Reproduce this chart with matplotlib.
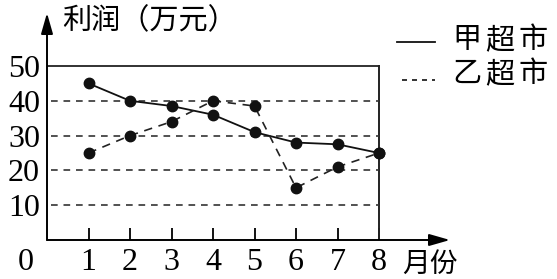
import matplotlib
matplotlib.use('Agg')
import matplotlib.pyplot as plt
from matplotlib.lines import Line2D

plt.rcParams['font.family'] = ['Liberation Serif', 'Noto Sans CJK SC']

# 数据：月份与两家超市的利润（万元）
months = [1, 2, 3, 4, 5, 6, 7, 8]
jia = [45, 40, 38.5, 36, 31, 28, 27.5, 25]
yi = [25, 30, 34, 40, 38.5, 15, 21, 25]
y_ticks = [10, 20, 30, 40, 50]
y_label = '利润（万元）'
x_label = '月份'
legend_names = ['甲超市', '乙超市']

W, H = 557, 279
fig = plt.figure(figsize=(W / 100, H / 100), dpi=100)
# 像素位置：y轴 x=47，x轴 y=240，8月在 x=379，50 在 y=66
ax = fig.add_axes([47 / W, (H - 240) / H, (450 - 47) / W, (240 - 13) / H])
ax.set_xlim(0, (450 - 47) / 41.5)
ax.set_ylim(0, (240 - 13) / 3.48)
for s in ax.spines.values():
    s.set_visible(False)

cjk = 'Noto Sans CJK SC'

# 坐标轴箭头
arrow = dict(arrowstyle='-|>,head_length=0.7,head_width=0.2', lw=1.4,
             color='black', mutation_scale=18, shrinkA=0, shrinkB=0)
ax.annotate('', xy=(ax.get_xlim()[1], 0), xytext=(0, 0), arrowprops=arrow,
            annotation_clip=False)
ax.annotate('', xy=(0, ax.get_ylim()[1]), xytext=(0, 0), arrowprops=arrow,
            annotation_clip=False)

# 边框和虚线网格
xmax = months[-1]
ax.plot([0, xmax], [y_ticks[-1], y_ticks[-1]], color='#222', lw=1.3)
ax.plot([xmax, xmax], [0, y_ticks[-1]], color='#222', lw=1.4)
for v in y_ticks[:-1]:
    ax.plot([0.1, xmax], [v, v], color='#333', lw=1.2, dashes=(4, 3.5))

# 折线
ax.plot(months, jia, color='#111', lw=1.3, marker='o', ms=7.5)
ax.plot(months, yi, color='#222', lw=1.2, dashes=(5, 4), marker='o', ms=7.5,
        mfc='#111', mec='#111')

# 刻度
ax.set_xticks(months)
ax.set_xticklabels([str(m) for m in months])
ax.tick_params(axis='x', direction='in', length=8.5, width=1.3, pad=6,
               labelsize=23)
ax.set_yticks(y_ticks)
ax.set_yticklabels([str(v) for v in y_ticks])
ax.tick_params(axis='y', length=0, pad=5, labelsize=23)

fig.text(26 / W, 1 - 262 / H, '0', fontsize=23, ha='center', va='center')
fig.text(62 / W, 1 - 21 / H, y_label, family=cjk, fontsize=21,
         ha='left', va='center')
fig.text(402 / W, 1 - 264 / H, x_label, family=cjk, fontsize=20,
         ha='left', va='center')

# 图例（字间距较宽，逐字放置）
fig.add_artist(Line2D([397 / W, 435 / W], [1 - 42 / H, 1 - 42 / H],
                      color='#111', lw=1.3))
fig.add_artist(Line2D([402 / W, 435 / W], [1 - 80 / H, 1 - 80 / H],
                      color='#111', lw=1.2, dashes=(3, 3)))
for row, name in zip([40, 74], legend_names):
    for i, ch in enumerate(name):
        fig.text((467 + 33 * i) / W, 1 - row / H, ch, family=cjk,
                 fontsize=21, ha='center', va='center')

fig.savefig('out.png', dpi=100)
